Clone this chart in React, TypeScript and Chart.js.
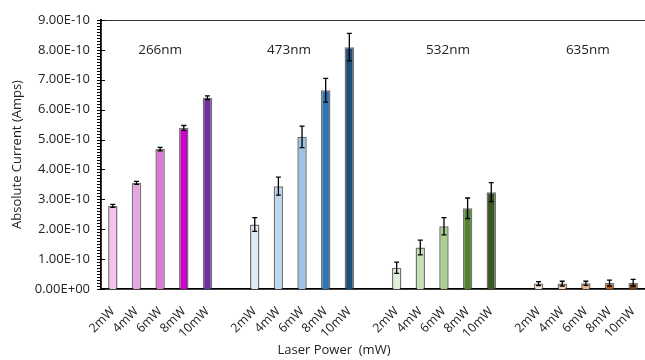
import React, { useEffect, useRef } from "react";
import { Chart, registerables } from "chart.js";

Chart.register(...registerables);

const powers = ["2mW", "4mW", "6mW", "8mW", "10mW"];
const wavelengths = ["266nm", "473nm", "532nm", "635nm"];

const values266 = [2.78e-10, 3.55e-10, 4.68e-10, 5.39e-10, 6.4e-10];
const err266 = [0.05e-10, 0.05e-10, 0.06e-10, 0.08e-10, 0.06e-10];
const values473 = [2.16e-10, 3.44e-10, 5.09e-10, 6.65e-10, 8.09e-10];
const err473 = [0.23e-10, 0.3e-10, 0.36e-10, 0.4e-10, 0.46e-10];
const values532 = [0.71e-10, 1.39e-10, 2.1e-10, 2.7e-10, 3.24e-10];
const err532 = [0.19e-10, 0.245e-10, 0.29e-10, 0.345e-10, 0.32e-10];
const values635 = [0.18e-10, 0.18e-10, 0.19e-10, 0.2e-10, 0.21e-10];
const err635 = [0.07e-10, 0.08e-10, 0.07e-10, 0.1e-10, 0.11e-10];

const colors266 = ["#F5C1EE", "#E6A6E2", "#DB79D6", "#CC00CC", "#7030A0"];
const colors473 = ["#DEEBF7", "#BDD7EE", "#9DC3E6", "#2E75B6", "#1F4E79"];
const colors532 = ["#E2F0D9", "#C5E0B4", "#A9D18E", "#548235", "#385723"];
const colors635 = ["#FBE5D6", "#F8CBAD", "#F4B183", "#C55A11", "#843C0C"];

const yTicks = [0, 1e-10, 2e-10, 3e-10, 4e-10, 5e-10, 6e-10, 7e-10, 8e-10, 9e-10];
const yTitle = "Absolute Current (Amps)";
const xTitle = "Laser Power  (mW)";

const FONT = "'Open Sans', sans-serif";

// build the flat category table with blank gaps between groups
const groupValues = [values266, values473, values532, values635];
const groupErrors = [err266, err473, err532, err635];
const groupColors = [colors266, colors473, colors532, colors635];

const labels: string[] = [];
const data: (number | null)[] = [];
const errs: (number | null)[] = [];
const bg: string[] = [];
groupValues.forEach((vals, g) => {
  if (g > 0) {
    labels.push("");
    data.push(null);
    errs.push(null);
    bg.push("rgba(0,0,0,0)");
  }
  vals.forEach((v, i) => {
    labels.push(powers[i]);
    data.push(v);
    errs.push(groupErrors[g][i]);
    bg.push(groupColors[g][i]);
  });
});

function fmtExp(v: number): string {
  if (Math.abs(v) < 1e-20) return "0.00E+00";
  const s = v.toExponential(2);
  const [m, e] = s.split("e");
  const sign = e[0] === "-" ? "-" : "+";
  const digits = e.replace(/[+-]/, "").padStart(2, "0");
  return `${m}E${sign}${digits}`;
}

const labelShift = [0, -13, 4, 2];

const decorPlugin = {
  id: "decor",
  afterDatasetsDraw(chart: any) {
    const ctx = chart.ctx;
    const { left, right, top } = chart.chartArea;
    const y = chart.scales.y;
    const meta = chart.getDatasetMeta(0);
    ctx.save();
    // top border
    ctx.strokeStyle = "#333";
    ctx.lineWidth = 1.2;
    ctx.beginPath();
    ctx.moveTo(left, top + 0.5);
    ctx.lineTo(right, top + 0.5);
    ctx.stroke();
    // error bars
    ctx.strokeStyle = "#000";
    ctx.lineWidth = 1.3;
    data.forEach((v, i) => {
      if (v == null) return;
      const e = errs[i] as number;
      const x = meta.data[i].x;
      const y1 = y.getPixelForValue(v + e);
      const y2 = y.getPixelForValue(v - e);
      ctx.beginPath();
      ctx.moveTo(x, y1);
      ctx.lineTo(x, y2);
      ctx.moveTo(x - 2.5, y1);
      ctx.lineTo(x + 2.5, y1);
      ctx.moveTo(x - 2.5, y2);
      ctx.lineTo(x + 2.5, y2);
      ctx.stroke();
    });
    // y ticks (major crossing, minor outside)
    ctx.strokeStyle = "#000";
    ctx.lineWidth = 1;
    const max = yTicks[yTicks.length - 1];
    for (let k = 0; k <= 90; k++) {
      const py = Math.round(y.getPixelForValue((k / 90) * max)) + 0.5;
      ctx.beginPath();
      if (k % 10 === 0) {
        ctx.moveTo(left - 4, py);
        ctx.lineTo(left + 4, py);
      } else {
        ctx.moveTo(left - 4, py);
        ctx.lineTo(left, py);
      }
      ctx.stroke();
    }
    // group labels
    ctx.fillStyle = "#222";
    ctx.font = `13.5px ${FONT}`;
    ctx.textAlign = "center";
    ctx.textBaseline = "middle";
    const x = chart.scales.x;
    wavelengths.forEach((w, g) => {
      const idx = g * 6 + 2;
      ctx.fillText(w, x.getPixelForValue(idx) + labelShift[g], 50);
    });
    // x title
    ctx.font = `13px ${FONT}`;
    ctx.fillText(xTitle, 334, 350);
    ctx.restore();
  },
};

export default function App() {
  const ref = useRef<HTMLCanvasElement | null>(null);
  useEffect(() => {
    document.body.style.margin = "0";
    document.body.style.overflow = "hidden";
    const chart = new Chart(ref.current as HTMLCanvasElement, {
      type: "bar",
      data: {
        labels,
        datasets: [
          {
            data,
            backgroundColor: bg,
            borderColor: "rgba(40,40,40,0.65)",
            borderWidth: 1.5,
            barPercentage: 0.4,
            categoryPercentage: 1,
          },
        ],
      },
      options: {
        responsive: false,
        animation: false,
        layout: { padding: { top: 20, left: 0, right: 0, bottom: 0 } },
        plugins: { legend: { display: false }, tooltip: { enabled: false } },
        scales: {
          x: {
            grid: { display: false },
            border: { display: true, color: "#000", width: 1.8 },
            ticks: {
              autoSkip: false,
              maxRotation: 45,
              minRotation: 45,
              color: "#222",
              font: { family: FONT, size: 12.5 },
              padding: 7,
            },
            afterFit: (s: any) => {
              s.height = 71;
              s.paddingLeft = 0;
              s.paddingRight = 0;
            },
          },
          y: {
            min: 0,
            max: 9e-10,
            grid: { display: false, drawTicks: false },
            border: { display: true, color: "#000", width: 1.8 },
            afterBuildTicks: (s: any) => {
              s.ticks = yTicks.map((v) => ({ value: v }));
            },
            ticks: {
              color: "#222",
              font: { family: FONT, size: 13 },
              padding: 11,
              callback: (v: any) => fmtExp(Number(v)),
            },
            title: {
              display: true,
              text: yTitle,
              color: "#222",
              font: { family: FONT, size: 13 },
              padding: { top: 9, bottom: 0 },
            },
            afterFit: (s: any) => {
              s.width = 101;
            },
          },
        },
      },
      plugins: [decorPlugin],
    });
    return () => chart.destroy();
  }, []);
  return <canvas ref={ref} width={645} height={360} />;
}
